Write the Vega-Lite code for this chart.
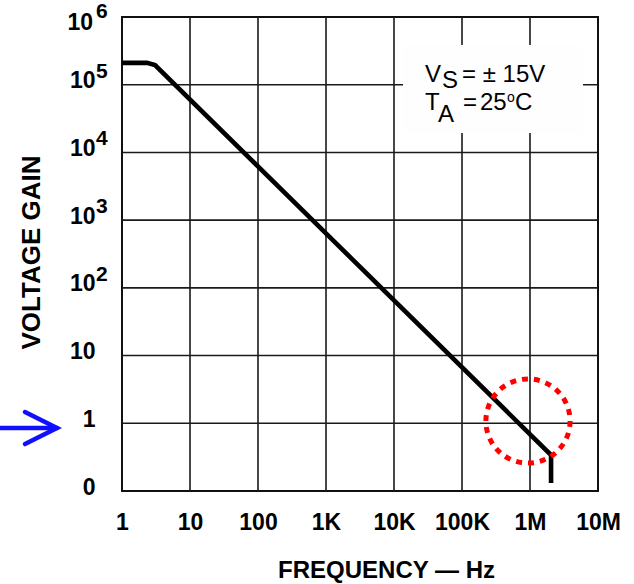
{
  "$schema": "https://vega.github.io/schema/vega-lite/v6.json",
  "width": 476,
  "height": 474,
  "autosize": {"type": "none"},
  "padding": {"left": 122, "top": 17, "right": 36, "bottom": 93},
  "background": "white",
  "data": {"values": [{}]},
  "config": {
    "font": "Liberation Sans",
    "view": {"stroke": "#111", "strokeWidth": 2},
    "axis": {"domain": false, "ticks": false, "tickSize": 0, "grid": false, "labelColor": "#000", "titleColor": "#000", "labelFont": "Liberation Sans", "titleFont": "Liberation Sans", "labelFontWeight": "bold", "titleFontWeight": "bold"}
  },
  "datasets": {
    "gain": [
      {"f": 1, "gain": 210000},
      {"f": 2.33, "gain": 210000},
      {"f": 3.06, "gain": 195000},
      {"f": 2040000, "gain": 0.34},
      {"f": 2040000, "gain": 0.131}
    ],
    "exps": [
      {"g": 100, "e": "2"},
      {"g": 1000, "e": "3"},
      {"g": 10000, "e": "4"},
      {"g": 100000, "e": "5"}
    ],
    "xgrid": [
      {"v": 10}, {"v": 100}, {"v": 1000}, {"v": 10000}, {"v": 100000}, {"v": 1000000}
    ],
    "ygrid": [
      {"v": 1}, {"v": 10}, {"v": 100}, {"v": 1000}, {"v": 10000}, {"v": 100000}
    ]
  },
  "layer": [
    {
      "data": {"name": "xgrid"},
      "mark": {"type": "rule", "color": "#1a1a1a", "strokeWidth": 1.6},
      "encoding": {
        "x": {"field": "v", "type": "quantitative", "scale": {"type": "log", "domain": [1, 10000000], "nice": false}}
      }
    },
    {
      "data": {"name": "ygrid"},
      "mark": {"type": "rule", "color": "#1a1a1a", "strokeWidth": 1.6},
      "encoding": {
        "y": {"field": "v", "type": "quantitative", "scale": {"type": "log", "domain": [0.1, 1000000], "nice": false}}
      }
    },
    {
      "mark": {"type": "point", "shape": "M-1,-0.489L1,-0.489L1,0.489L-1,0.489Z", "filled": true, "fill": "#fefefe", "color": "#fefefe", "size": 32400, "opacity": 1, "fillOpacity": 1, "strokeWidth": 0},
      "encoding": {
        "x": {"datum": 286000, "type": "quantitative"},
        "y": {"datum": 86500, "type": "quantitative"}
      }
    },
    {
      "data": {"name": "gain"},
      "mark": {"type": "line", "color": "#000", "strokeWidth": 4.6, "strokeJoin": "miter"},
      "encoding": {
        "x": {"field": "f", "type": "quantitative", "scale": {"type": "log", "domain": [1, 10000000], "nice": false},
          "axis": {"values": [1, 10, 100, 1000, 10000, 100000, 1000000, 10000000],
            "labelExpr": "datum.value == 1 ? '1' : datum.value == 10 ? '10' : datum.value == 100 ? '100' : datum.value == 1000 ? '1K' : datum.value == 10000 ? '10K' : datum.value == 100000 ? '100K' : datum.value == 1000000 ? '1M' : '10M'",
            "labelFontSize": 23, "labelPadding": 20, "labelBaseline": "top", "labelFlush": false, "labelOverlap": false,
            "title": "FREQUENCY — Hz", "titleFontSize": 24, "titleX": 264, "titleY": 79, "titleAlign": "center", "titleBaseline": "middle"}},
        "y": {"field": "gain", "type": "quantitative", "scale": {"type": "log", "domain": [0.1, 1000000], "nice": false},
          "axis": {"values": [0.1, 1, 10, 100, 1000, 10000, 100000],
            "labelExpr": "datum.value < 0.5 ? '0' : datum.value < 5 ? '1' : '10'",
            "labelFontSize": 23, "labelPadding": 27, "labelBaseline": "middle", "labelOffset": -4, "labelFlush": false, "labelOverlap": false,
            "title": "VOLTAGE GAIN", "titleFontSize": 26, "titleAngle": -90, "titleX": -91, "titleY": 235, "titleAlign": "center", "titleBaseline": "middle"}},
        "order": {"value": null}
      }
    },
    {
      "data": {"name": "exps"},
      "mark": {"type": "text", "align": "left", "baseline": "middle", "fontSize": 21, "fontWeight": "bold", "color": "#000", "dy": -13},
      "encoding": {
        "x": {"datum": 0.415, "type": "quantitative"},
        "y": {"field": "g", "type": "quantitative"},
        "text": {"field": "e"}
      }
    },
    {
      "mark": {"type": "text", "align": "right", "baseline": "middle", "fontSize": 23, "fontWeight": "bold", "color": "#000", "dy": 6},
      "encoding": {
        "x": {"datum": 0.375, "type": "quantitative"},
        "y": {"datum": 1000000, "type": "quantitative"},
        "text": {"value": "10"}
      }
    },
    {
      "mark": {"type": "text", "align": "left", "baseline": "middle", "fontSize": 21, "fontWeight": "bold", "color": "#000", "dy": -5},
      "encoding": {
        "x": {"datum": 0.415, "type": "quantitative"},
        "y": {"datum": 1000000, "type": "quantitative"},
        "text": {"value": "6"}
      }
    },
    {
      "mark": {"type": "text", "align": "left", "baseline": "alphabetic", "fontSize": 24, "color": "#000"},
      "encoding": {
        "x": {"datum": 28580, "type": "quantitative"},
        "y": {"datum": 109600, "type": "quantitative"},
        "text": {"value": "V"}
      }
    },
    {
      "mark": {"type": "text", "align": "left", "baseline": "alphabetic", "fontSize": 24, "color": "#000", "dx": 17, "dy": 6},
      "encoding": {
        "x": {"datum": 28580, "type": "quantitative"},
        "y": {"datum": 109600, "type": "quantitative"},
        "text": {"value": "S"}
      }
    },
    {
      "mark": {"type": "text", "align": "left", "baseline": "alphabetic", "fontSize": 24, "color": "#000", "dx": 37},
      "encoding": {
        "x": {"datum": 28580, "type": "quantitative"},
        "y": {"datum": 109600, "type": "quantitative"},
        "text": {"value": "= ± 15V"}
      }
    },
    {
      "mark": {"type": "text", "align": "left", "baseline": "alphabetic", "fontSize": 24, "color": "#000"},
      "encoding": {
        "x": {"datum": 28580, "type": "quantitative"},
        "y": {"datum": 42300, "type": "quantitative"},
        "text": {"value": "T"}
      }
    },
    {
      "mark": {"type": "text", "align": "left", "baseline": "alphabetic", "fontSize": 24, "color": "#000", "dx": 13, "dy": 12},
      "encoding": {
        "x": {"datum": 28580, "type": "quantitative"},
        "y": {"datum": 42300, "type": "quantitative"},
        "text": {"value": "A"}
      }
    },
    {
      "mark": {"type": "text", "align": "left", "baseline": "alphabetic", "fontSize": 24, "color": "#000", "dx": 38},
      "encoding": {
        "x": {"datum": 28580, "type": "quantitative"},
        "y": {"datum": 42300, "type": "quantitative"},
        "text": {"value": "="}
      }
    },
    {
      "mark": {"type": "text", "align": "left", "baseline": "alphabetic", "fontSize": 24, "color": "#000", "dx": 55},
      "encoding": {
        "x": {"datum": 28580, "type": "quantitative"},
        "y": {"datum": 42300, "type": "quantitative"},
        "text": {"value": "25"}
      }
    },
    {
      "mark": {"type": "text", "align": "left", "baseline": "alphabetic", "fontSize": 14, "color": "#000", "dx": 82, "dy": -8},
      "encoding": {
        "x": {"datum": 28580, "type": "quantitative"},
        "y": {"datum": 42300, "type": "quantitative"},
        "text": {"value": "o"}
      }
    },
    {
      "mark": {"type": "text", "align": "left", "baseline": "alphabetic", "fontSize": 24, "color": "#000", "dx": 90},
      "encoding": {
        "x": {"datum": 28580, "type": "quantitative"},
        "y": {"datum": 42300, "type": "quantitative"},
        "text": {"value": "C"}
      }
    },
    {
      "mark": {"type": "point", "shape": "circle", "filled": false, "size": 7088, "stroke": "#ff0000", "strokeWidth": 5, "strokeDash": [6, 6], "opacity": 1},
      "encoding": {
        "x": {"datum": 934000, "type": "quantitative"},
        "y": {"datum": 1.08, "type": "quantitative"}
      }
    },
    {
      "mark": {"type": "rule", "color": "#1010ff", "strokeWidth": 4.5, "strokeCap": "round"},
      "encoding": {
        "x": {"datum": 0.0161, "type": "quantitative"},
        "x2": {"datum": 0.1107},
        "y": {"datum": 0.851, "type": "quantitative"}
      }
    },
    {
      "mark": {"type": "point", "shape": "M-1,-0.5L0,0L-1,0.5", "filled": false, "size": 4096, "stroke": "#1010ff", "strokeWidth": 4.5, "strokeCap": "round", "strokeJoin": "miter", "opacity": 1},
      "encoding": {
        "x": {"datum": 0.1107, "type": "quantitative"},
        "y": {"datum": 0.851, "type": "quantitative"}
      }
    }
  ]
}
